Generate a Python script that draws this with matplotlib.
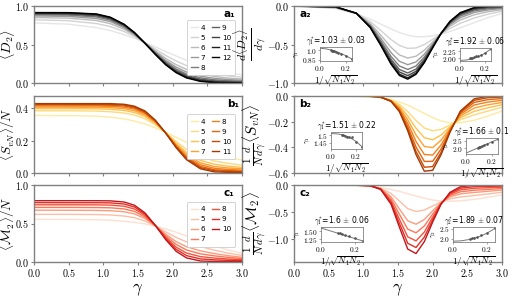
import numpy as np
import matplotlib
matplotlib.use("Agg")
import matplotlib.pyplot as plt

plt.rcParams['mathtext.fontset'] = 'cm'
plt.rcParams['font.family'] = 'DejaVu Sans'

# gamma grids the curves were read on
gam_sig = [0.0, 0.5, 0.9, 1.1, 1.3, 1.45, 1.6, 1.75, 1.9, 2.05, 2.2, 2.4, 2.6, 2.8, 3.0]
gam_der = [0.0, 0.6, 0.9, 1.1, 1.25, 1.4, 1.52, 1.64, 1.76, 1.88, 2.0, 2.12, 2.25, 2.4, 2.6, 2.8, 3.0]

# system sizes
sizes_a = [4, 5, 6, 7, 8, 9, 10, 11, 12]
sizes_b = [4, 5, 6, 7, 8, 9, 10, 11]
sizes_c = [4, 5, 6, 7, 8, 9, 10]

# <D2>
D2 = [
    [0.781, 0.764, 0.719, 0.681, 0.628, 0.581, 0.527, 0.468, 0.409, 0.351, 0.295, 0.228, 0.174, 0.133, 0.106],
    [0.821, 0.809, 0.772, 0.733, 0.669, 0.603, 0.524, 0.439, 0.357, 0.286, 0.226, 0.166, 0.123, 0.093, 0.074],
    [0.851, 0.842, 0.812, 0.771, 0.698, 0.619, 0.521, 0.418, 0.319, 0.238, 0.176, 0.120, 0.086, 0.064, 0.051],
    [0.871, 0.865, 0.838, 0.798, 0.718, 0.631, 0.520, 0.403, 0.293, 0.206, 0.142, 0.089, 0.061, 0.045, 0.035],
    [0.886, 0.881, 0.858, 0.817, 0.733, 0.639, 0.518, 0.392, 0.274, 0.182, 0.116, 0.067, 0.042, 0.030, 0.023],
    [0.896, 0.893, 0.872, 0.831, 0.744, 0.645, 0.518, 0.385, 0.260, 0.164, 0.098, 0.050, 0.029, 0.019, 0.015],
    [0.904, 0.902, 0.883, 0.841, 0.752, 0.649, 0.517, 0.379, 0.250, 0.151, 0.084, 0.038, 0.019, 0.012, 0.008],
    [0.911, 0.910, 0.892, 0.850, 0.759, 0.653, 0.516, 0.374, 0.241, 0.141, 0.073, 0.027, 0.010, 0.005, 0.003],
    [0.915, 0.914, 0.897, 0.855, 0.763, 0.655, 0.516, 0.371, 0.236, 0.134, 0.066, 0.021, 0.005, 0.001, 0.000],
]

# d<D2>/dgamma
dD2 = [
    [-0.002, -0.034, -0.099, -0.170, -0.234, -0.299, -0.345, -0.379, -0.398, -0.399, -0.387, -0.365, -0.331, -0.284, -0.215, -0.150, -0.097],
    [-0.001, -0.027, -0.097, -0.203, -0.317, -0.436, -0.512, -0.550, -0.545, -0.500, -0.434, -0.363, -0.291, -0.224, -0.156, -0.106, -0.068],
    [-0.001, -0.022, -0.096, -0.228, -0.377, -0.537, -0.635, -0.676, -0.652, -0.574, -0.468, -0.361, -0.262, -0.181, -0.114, -0.074, -0.048],
    [-0.001, -0.018, -0.096, -0.244, -0.418, -0.605, -0.718, -0.762, -0.726, -0.625, -0.492, -0.360, -0.242, -0.151, -0.084, -0.052, -0.033],
    [0.000, -0.015, -0.095, -0.257, -0.449, -0.655, -0.779, -0.824, -0.779, -0.662, -0.509, -0.359, -0.227, -0.129, -0.063, -0.036, -0.023],
    [0.000, -0.013, -0.095, -0.265, -0.471, -0.692, -0.824, -0.870, -0.819, -0.689, -0.521, -0.358, -0.217, -0.113, -0.047, -0.024, -0.015],
    [0.000, -0.012, -0.094, -0.272, -0.487, -0.719, -0.857, -0.904, -0.848, -0.709, -0.531, -0.358, -0.209, -0.101, -0.036, -0.016, -0.010],
    [0.000, -0.011, -0.094, -0.278, -0.501, -0.742, -0.885, -0.933, -0.872, -0.726, -0.538, -0.357, -0.202, -0.091, -0.026, -0.008, -0.005],
    [0.000, -0.010, -0.094, -0.281, -0.509, -0.756, -0.902, -0.950, -0.887, -0.736, -0.543, -0.357, -0.198, -0.085, -0.020, -0.004, -0.002],
]

# <S_vN>/N
SvN = [
    [0.355, 0.354, 0.351, 0.345, 0.334, 0.320, 0.303, 0.279, 0.251, 0.220, 0.189, 0.149, 0.118, 0.095, 0.080],
    [0.384, 0.384, 0.382, 0.378, 0.370, 0.357, 0.335, 0.298, 0.249, 0.194, 0.146, 0.100, 0.074, 0.059, 0.049],
    [0.397, 0.397, 0.396, 0.393, 0.386, 0.373, 0.349, 0.306, 0.248, 0.183, 0.127, 0.078, 0.054, 0.042, 0.035],
    [0.406, 0.406, 0.405, 0.403, 0.397, 0.384, 0.359, 0.312, 0.247, 0.175, 0.114, 0.063, 0.040, 0.031, 0.026],
    [0.413, 0.413, 0.413, 0.411, 0.406, 0.394, 0.367, 0.317, 0.247, 0.169, 0.103, 0.051, 0.029, 0.022, 0.018],
    [0.419, 0.419, 0.419, 0.418, 0.413, 0.401, 0.373, 0.320, 0.247, 0.164, 0.095, 0.041, 0.020, 0.015, 0.012],
    [0.424, 0.424, 0.423, 0.423, 0.419, 0.406, 0.378, 0.323, 0.246, 0.160, 0.088, 0.033, 0.014, 0.009, 0.008],
    [0.428, 0.428, 0.428, 0.428, 0.424, 0.412, 0.383, 0.326, 0.246, 0.156, 0.082, 0.026, 0.007, 0.004, 0.003],
]

# (1/N) d<S_vN>/dgamma
dSvN = [
    [0.000, 0.000, -0.002, -0.006, -0.014, -0.028, -0.047, -0.071, -0.102, -0.136, -0.168, -0.194, -0.209, -0.208, -0.189, -0.156, -0.118],
    [0.000, 0.000, -0.002, -0.005, -0.012, -0.032, -0.066, -0.121, -0.191, -0.249, -0.271, -0.260, -0.227, -0.185, -0.147, -0.117, -0.088],
    [0.000, 0.000, -0.001, -0.004, -0.011, -0.034, -0.079, -0.155, -0.251, -0.325, -0.341, -0.305, -0.240, -0.170, -0.119, -0.091, -0.068],
    [0.000, 0.000, -0.001, -0.003, -0.011, -0.036, -0.090, -0.185, -0.304, -0.393, -0.402, -0.345, -0.251, -0.156, -0.094, -0.068, -0.051],
    [0.000, 0.000, -0.001, -0.002, -0.010, -0.038, -0.100, -0.213, -0.354, -0.456, -0.460, -0.382, -0.261, -0.143, -0.070, -0.047, -0.034],
    [0.000, 0.000, 0.000, -0.002, -0.009, -0.040, -0.109, -0.237, -0.397, -0.510, -0.509, -0.414, -0.270, -0.132, -0.050, -0.028, -0.020],
    [0.000, 0.000, 0.000, -0.001, -0.008, -0.041, -0.117, -0.257, -0.432, -0.555, -0.550, -0.440, -0.277, -0.123, -0.034, -0.013, -0.008],
    [0.000, 0.000, 0.000, -0.001, -0.008, -0.042, -0.122, -0.271, -0.457, -0.586, -0.579, -0.459, -0.282, -0.117, -0.022, -0.002, 0.000],
]

# <M2>/N
M2 = [
    [0.554, 0.553, 0.549, 0.543, 0.530, 0.515, 0.494, 0.465, 0.429, 0.386, 0.338, 0.271, 0.209, 0.156, 0.114],
    [0.619, 0.619, 0.616, 0.611, 0.597, 0.575, 0.533, 0.468, 0.391, 0.319, 0.261, 0.201, 0.154, 0.115, 0.085],
    [0.673, 0.672, 0.670, 0.666, 0.652, 0.624, 0.565, 0.470, 0.361, 0.265, 0.198, 0.145, 0.110, 0.082, 0.061],
    [0.709, 0.709, 0.707, 0.704, 0.689, 0.657, 0.586, 0.472, 0.340, 0.228, 0.156, 0.106, 0.080, 0.060, 0.045],
    [0.743, 0.743, 0.742, 0.739, 0.724, 0.688, 0.606, 0.474, 0.321, 0.193, 0.116, 0.070, 0.051, 0.039, 0.030],
    [0.771, 0.770, 0.770, 0.768, 0.753, 0.714, 0.623, 0.475, 0.305, 0.165, 0.083, 0.040, 0.028, 0.022, 0.017],
    [0.796, 0.796, 0.796, 0.794, 0.779, 0.737, 0.638, 0.476, 0.290, 0.139, 0.053, 0.013, 0.007, 0.006, 0.006],
]

# (1/N) d<M2>/dgamma
dM2 = [
    [0.000, -0.002, -0.010, -0.027, -0.049, -0.083, -0.119, -0.160, -0.204, -0.244, -0.277, -0.296, -0.299, -0.291, -0.265, -0.226, -0.182],
    [0.000, -0.001, -0.007, -0.023, -0.058, -0.157, -0.296, -0.436, -0.490, -0.460, -0.387, -0.312, -0.255, -0.221, -0.194, -0.165, -0.133],
    [0.000, -0.001, -0.005, -0.019, -0.065, -0.217, -0.441, -0.660, -0.723, -0.636, -0.476, -0.325, -0.219, -0.164, -0.137, -0.116, -0.093],
    [0.000, -0.001, -0.004, -0.017, -0.069, -0.258, -0.539, -0.813, -0.882, -0.755, -0.537, -0.334, -0.194, -0.125, -0.097, -0.082, -0.066],
    [0.000, 0.000, -0.002, -0.015, -0.074, -0.296, -0.631, -0.956, -1.031, -0.867, -0.594, -0.343, -0.171, -0.089, -0.061, -0.050, -0.041],
    [0.000, 0.000, -0.001, -0.013, -0.078, -0.327, -0.707, -1.074, -1.153, -0.959, -0.641, -0.350, -0.152, -0.059, -0.031, -0.025, -0.020],
    [0.000, 0.000, 0.000, -0.011, -0.081, -0.356, -0.776, -1.181, -1.264, -1.043, -0.684, -0.356, -0.135, -0.032, -0.003, -0.001, -0.001],
]

# finite size scaling insets: x = 1/sqrt(N1 N2)
inv_a = [0.25, 0.2, 0.167, 0.143, 0.125, 0.111, 0.1, 0.091, 0.083]
inv_b = [0.25, 0.2, 0.167, 0.143, 0.125, 0.111, 0.1, 0.091]
inv_c = [0.25, 0.2, 0.167, 0.143, 0.125, 0.111, 0.1]
fit_x = [0.0, 0.05, 0.1, 0.15, 0.2, 0.25]

a_g1 = [0.86, 0.91, 0.94, 0.955, 0.97, 0.98, 0.99, 0.995, 1.0]
a_g1_fit = [1.03, 1.02, 0.995, 0.96, 0.915, 0.86]
a_g2 = [2.33, 2.2, 2.13, 2.09, 2.06, 2.04, 2.02, 2.01, 2.0]
a_g2_fit = [1.92, 1.935, 1.98, 2.06, 2.17, 2.33]

b_g1 = [1.425, 1.455, 1.49, 1.485, 1.49, 1.495, 1.5, 1.5]
b_g1_fit = [1.51, 1.508, 1.5, 1.485, 1.46, 1.425]
b_g2 = [2.6, 2.41, 2.29, 2.2, 2.13, 2.08, 2.04, 2.0]
b_g2_fit = [1.66, 1.85, 2.04, 2.22, 2.41, 2.6]

c_g1 = [1.2, 1.29, 1.35, 1.39, 1.42, 1.44, 1.45]
c_g1_fit = [1.6, 1.52, 1.44, 1.36, 1.28, 1.2]
c_g2 = [2.55, 2.32, 2.2, 2.12, 2.07, 2.03, 2.0]
c_g2_fit = [1.89, 1.91, 1.98, 2.1, 2.28, 2.53]

W, H = 514, 299
fig = plt.figure(figsize=(W / 100, H / 100), dpi=100)

SPINE = '#808080'


def px_axes(x0, y0, x1, y1):
    return fig.add_axes([x0 / W, 1 - y1 / H, (x1 - x0) / W, (y1 - y0) / H])


def tex(v):
    return '$' + v + '$'


def style(ax, yticks, ylabels, ylim, bottom=False):
    ax.set_xlim(0, 3)
    ax.set_ylim(*ylim)
    xt = [0.0, 0.5, 1.0, 1.5, 2.0, 2.5, 3.0]
    if bottom:
        ax.set_xticks(xt, [tex('%.1f' % v) for v in xt])
        ax.set_xlabel(r'$\gamma$', fontsize=12)
        ax.xaxis.set_label_coords(0.5, -0.24)
    else:
        ax.set_xticks(xt, [])
    ax.set_yticks(yticks, [tex(s) for s in ylabels])
    for s in ax.spines.values():
        s.set_color(SPINE)
        s.set_linewidth(1.0)
    ax.tick_params(direction='out', length=2.5, width=0.8, color=SPINE,
                   labelsize=7.2, pad=1)


def legend(ax, top):
    leg = ax.legend(ncol=2, loc='upper right', bbox_to_anchor=(0.985, top),
                    prop={'family': 'DejaVu Sans', 'size': 5.2},
                    handlelength=0.9, handletextpad=0.4, columnspacing=1.0,
                    labelspacing=0.55, borderpad=0.6, frameon=True,
                    fancybox=True, edgecolor='#cccccc', framealpha=1)
    leg.get_frame().set_linewidth(0.6)


def tag(ax, text, x, ha):
    ax.text(x, 0.9, text, transform=ax.transAxes, ha=ha, va='center',
            fontsize=7.5, fontweight='bold', family='DejaVu Sans')


def inset(rect, xs, ys, fy, title, ylab, yt, ylim):
    x0, y0, w, h = rect
    ia = px_axes(x0, y0, x0 + w, y0 + h)
    ia.plot(fit_x, fy, color='#777777', lw=0.7)
    ia.plot(xs, ys, 'o', color='#555555', ms=0.9)
    ia.set_xlim(0, 0.25)
    ia.set_ylim(*ylim)
    ia.set_xticks([0.0, 0.2], [tex('0.0'), tex('0.2')])
    ia.set_yticks(yt, [tex(s) for s in ylab[1]])
    ia.tick_params(direction='out', length=1.5, width=0.5, color=SPINE,
                   labelsize=5.3, pad=0.8)
    for s in ia.spines.values():
        s.set_color(SPINE)
        s.set_linewidth(0.6)
    ia.set_title(title, fontsize=5.5, pad=1.5)
    ia.set_xlabel(r'$1/\sqrt{N_1N_2}$', fontsize=6.5, labelpad=0.5)
    ia.set_ylabel(ylab[0], fontsize=5, labelpad=0.8)
    return ia


cols_a = plt.cm.Greys(np.linspace(0.18, 1.0, len(sizes_a)))
cols_b = plt.cm.YlOrBr(np.linspace(0.2, 0.85, len(sizes_b)))
cols_c = plt.cm.Reds(np.linspace(0.13, 0.78, len(sizes_c)))

# label x positions (right edge of the rotated text, axes coords)
LEFT_LAB = -0.08
RIGHT_LAB = -0.125

# row a
ax = px_axes(34, 6, 242, 83)
for n, y, c in zip(sizes_a, D2, cols_a):
    ax.plot(gam_sig, y, color=c, lw=1.0, label=str(n))
style(ax, [0, 0.5, 1.0], ['0.0', '0.5', '1.0'], (0, 1.0))
ax.set_ylabel(r'$\langle D_2\rangle$', fontsize=10)
ax.yaxis.set_label_coords(LEFT_LAB, 0.5)
legend(ax, 0.86)
tag(ax, 'a\u2081', 0.965, 'right')

ax = px_axes(294, 6, 502, 83)
for n, y, c in zip(sizes_a, dD2, cols_a):
    ax.plot(gam_der, y, color=c, lw=1.0)
style(ax, [-1.0, -0.5, 0.0], ['-1.0', '-0.5', '0.0'], (-1.0, 0.0))
ax.set_ylabel(r'$\frac{d\langle D_2\rangle}{d\gamma}$', fontsize=12)
ax.yaxis.set_label_coords(RIGHT_LAB, 0.5)
tag(ax, 'a\u2082', 0.025, 'left')
inset((320, 47, 32, 14), inv_a, a_g1, a_g1_fit, r'$\gamma_1^{*}$=1.03 $\pm$ 0.03',
      (r'$\gamma_1$', ['0.85', '1.0']), [0.85, 1.0], (0.83, 1.05))
inset((460, 48, 31, 13), inv_a, a_g2, a_g2_fit, r'$\gamma_2^{*}$=1.92 $\pm$ 0.06',
      (r'$\gamma_2$', ['2.00', '2.25']), [2.0, 2.25], (1.9, 2.36))

# row b
ax = px_axes(34, 96, 242, 173)
for n, y, c in zip(sizes_b, SvN, cols_b):
    ax.plot(gam_sig, y, color=c, lw=1.0, label=str(n))
style(ax, [0, 0.2, 0.4], ['0.0', '0.2', '0.4'], (0, 0.475))
ax.set_ylabel(r'$\langle S_{vN}\rangle/N$', fontsize=9.5)
ax.yaxis.set_label_coords(LEFT_LAB, 0.5)
legend(ax, 0.81)
tag(ax, 'b\u2081', 0.985, 'right')

ax = px_axes(294, 96, 502, 173)
for n, y, c in zip(sizes_b, dSvN, cols_b):
    ax.plot(gam_der, y, color=c, lw=1.0)
style(ax, [-0.6, -0.4, -0.2, 0.0], ['-0.6', '-0.4', '-0.2', '0.0'], (-0.6, 0.0))
ax.set_ylabel(r'$\frac{1}{N}\frac{d}{d\gamma}\langle S_{vN}\rangle$', fontsize=11)
ax.yaxis.set_label_coords(RIGHT_LAB, 0.5)
tag(ax, 'b\u2082', 0.025, 'left')
inset((331, 132, 31, 17), inv_b, b_g1, b_g1_fit, r'$\gamma_1^{*}$=1.51 $\pm$ 0.22',
      (r'$\gamma_1$', ['1.45', '1.5']), [1.45, 1.5], (1.41, 1.52))
inset((466, 138, 32, 16), inv_b, b_g2, b_g2_fit, r'$\gamma_2^{*}$=1.66 $\pm$ 0.1',
      (r'$\gamma_2$', ['2.0', '2.5']), [2.0, 2.5], (1.6, 2.68))

# row c
ax = px_axes(34, 185, 242, 262)
for n, y, c in zip(sizes_c, M2, cols_c):
    ax.plot(gam_sig, y, color=c, lw=1.0, label=str(n))
style(ax, [0, 0.5, 1.0], ['0.0', '0.5', '1.0'], (0, 1.0), bottom=True)
ax.set_ylabel(r'$\langle \mathcal{M}_2\rangle/N$', fontsize=9.5)
ax.yaxis.set_label_coords(LEFT_LAB, 0.5)
legend(ax, 0.83)
tag(ax, 'c\u2081', 0.965, 'right')

ax = px_axes(294, 185, 502, 262)
for n, y, c in zip(sizes_c, dM2, cols_c):
    ax.plot(gam_der, y, color=c, lw=1.0)
style(ax, [-1.0, -0.5, 0.0], ['-1.0', '-0.5', '0.0'], (-1.42, 0.0), bottom=True)
ax.set_ylabel(r'$\frac{1}{N}\frac{d}{d\gamma}\langle \mathcal{M}_2\rangle$', fontsize=11)
ax.yaxis.set_label_coords(RIGHT_LAB, 0.5)
tag(ax, 'c\u2082', 0.025, 'left')
inset((321, 227, 42, 15), inv_c, c_g1, c_g1_fit, r'$\gamma_1^{*}$=1.6 $\pm$ 0.06',
      (r'$\gamma_1$', ['1.25', '1.50']), [1.25, 1.5], (1.17, 1.63))
inset((453, 227, 42, 15), inv_c, c_g2, c_g2_fit, r'$\gamma_2^{*}$=1.89 $\pm$ 0.07',
      (r'$\gamma_2$', ['2.0', '2.5']), [2.0, 2.5], (1.85, 2.6))

fig.savefig('out.png', dpi=100)
